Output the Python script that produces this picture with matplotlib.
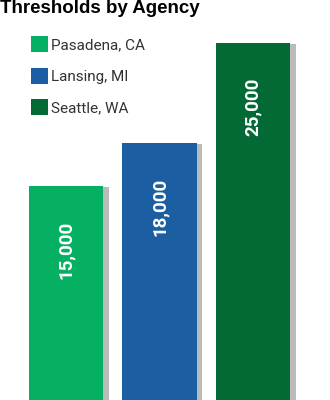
import matplotlib
matplotlib.use('Agg')
import matplotlib.pyplot as plt
import matplotlib.patheffects as pe
from matplotlib.patches import Patch

# data
agencies = ['Pasadena, CA', 'Lansing, MI', 'Seattle, WA']
thresholds = [15000, 18000, 25000]
labels = ['15,000', '18,000', '25,000']
colors = ['#06B062', '#1B5FA2', '#036A35']

fig = plt.figure(figsize=(3.3, 4.0), dpi=100)
ax = fig.add_axes([0, 0, 1, 1])

x = range(len(agencies))
bars = ax.bar(x, thresholds, width=0.8, color=colors, zorder=2)
for b in bars:
    b.set_path_effects([pe.SimplePatchShadow(offset=(4, -1), shadow_rgbFace='#555555', alpha=0.4),
                        pe.Normal()])

for xi, v, lab in zip(x, thresholds, labels):
    ax.text(xi, v - 4500, lab, rotation=90, ha='center', va='center',
            color='white', fontsize=13.5, fontweight='bold', family='Roboto')

ax.set_xlim(-0.706, 2.824)
ax.set_ylim(0, 28000)
ax.axis('off')

handles = [Patch(facecolor=c, edgecolor='none') for c in colors]
leg = ax.legend(handles, agencies, loc='upper left', bbox_to_anchor=(0.075, 0.925),
                frameon=False, fontsize=11, handlelength=1.1, handleheight=1.25,
                handletextpad=0.25, labelspacing=1.0, borderaxespad=0)
for t in leg.get_texts():
    t.set_color('#333333')
    t.set_family('Roboto')

fig.text(0.0, 0.968, 'Thresholds by Agency', ha='left', va='baseline',
         fontsize=13.5, fontweight='bold', family='Liberation Sans', color='black')

fig.savefig('out.png', dpi=100)
